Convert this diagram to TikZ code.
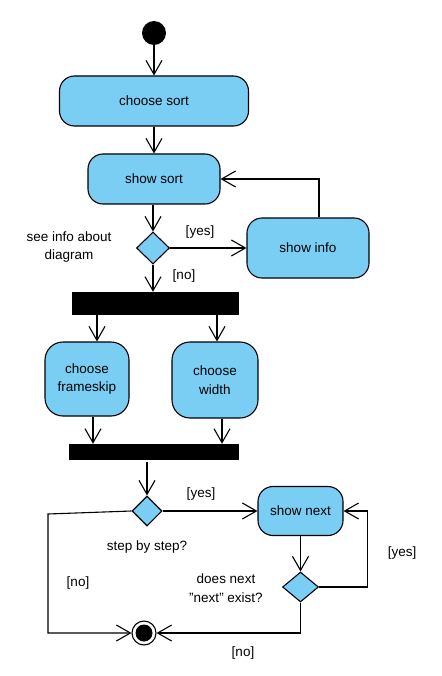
\documentclass[tikz,border=0pt]{standalone}
\usepackage{fontspec}
\setmainfont{Liberation Sans}
\usetikzlibrary{arrows.meta, shapes.geometric}
\definecolor{actblue}{RGB}{122,206,244}

\begin{document}
\begin{tikzpicture}[x = 1pt, y = -1pt, font = \fontsize{13.5}{18.5}\selectfont,
            action/.style = {draw, fill = actblue, rounded corners = 15pt, line width = 1.1pt, align = center, inner sep = 0pt},
            decision/.style = {draw, fill = actblue, diamond, line width = 1.1pt, inner sep = 0pt},
            bar/.style = {fill = black, inner sep = 0pt},
            flow/.style = {line width = 1.1pt, -{Straight Barb[length = 14pt, width = 16pt]}}]
            \useasboundingbox (0,0) rectangle (441,676);

            \node[circle, fill = black, minimum size = 24pt, inner sep = 0pt] (start) at (154,33) {};
            \node[action, minimum width = 189pt, minimum height = 50pt] (choosesort) at (154,101) {choose sort};
            \node[action, minimum width = 132pt, minimum height = 50pt] (showsort) at (154,179) {show sort};
            \node[decision, minimum width = 33pt, minimum height = 32pt] (seeinfo) at (153,248) {};
            \node[action, minimum width = 122pt, minimum height = 60pt] (showinfo) at (308,248) {show info};
            \node[bar, minimum width = 167pt, minimum height = 23pt] (fork) at (155.5,303.5) {};
            \node[action, rounded corners = 18pt, minimum width = 84pt, minimum height = 74pt] (frameskip) at (87,379) {choose\\frameskip};
            \node[action, rounded corners = 18pt, minimum width = 86pt, minimum height = 76pt] (width) at (215,380) {choose\\width};
            \node[bar, minimum width = 170pt, minimum height = 16pt] (join) at (154,452) {};
            \node[decision, minimum width = 30pt, minimum height = 30pt] (stepbystep) at (147,511) {};
            \node[action, minimum width = 85pt, minimum height = 49pt] (shownext) at (300.5,511) {show next};
            \node[decision, minimum width = 36pt, minimum height = 30pt] (nextexists) at (300.5,587) {};
            \node[circle, draw, fill = white, line width = 1.1pt, minimum size = 24pt, inner sep = 0pt] (stop) at (144,633) {};
            \node[circle, fill = black, minimum size = 17pt, inner sep = 0pt] (stopdot) at (stop) {};
            \coordinate (nocorner) at (48,514);

            \node[align = center] (seeinfotext) at (69,247) {see info about\\diagram};
            \node (seeinfoyes) at (200,232) {[yes]};
            \node (seeinfono) at (184,276) {[no]};
            \node (stepyes) at (201,494) {[yes]};
            \node (steptext) at (147,547) {step by step?};
            \node (stepno) at (78,583) {[no]};
            \node[align = center] (nexttext) at (226,588) {does next\\\symbol{34}next\symbol{34} exist?};
            \node (nextyes) at (402,553) {[yes]};
            \node (nextno) at (243,653) {[no]};

            \draw[flow] (start) -- (choosesort);
            \draw[flow] (choosesort) -- (showsort);
            \draw[flow] (showsort.south -| seeinfo) -- (seeinfo.north);
            \draw[flow] (seeinfo.east) -- (showinfo.west);
            \draw[flow] ([xshift = 11pt]showinfo.north) |- (showsort.east);
            \draw[flow] (seeinfo.south) -- (seeinfo |- fork.north);
            \draw[flow] ([xshift = 10pt]frameskip.north |- fork.south) -- ([xshift = 10pt]frameskip.north);
            \draw[flow] ([xshift = 2pt]width.north |- fork.south) -- ([xshift = 2pt]width.north);
            \draw[flow] ([xshift = 6pt]frameskip.south) -- ([xshift = 6pt]frameskip.south |- join.north);
            \draw[flow] ([xshift = 7pt]width.south) -- ([xshift = 7pt]width.south |- join.north);
            \draw[flow] ([yshift = -2pt]stepbystep |- join.south) -- (stepbystep.north);
            \draw[flow] (stepbystep.east) -- (shownext.west);
            \draw[flow] (shownext.south) -- (nextexists.north);
            \draw[flow] (nextexists.east) -- ++(48,0) |- (shownext.east);
            \draw[flow] (nextexists.south) |- (stop.east);
            \draw[flow] (stepbystep.west) -- (nocorner) |- (stop.west);
        \end{tikzpicture}
\end{document}
